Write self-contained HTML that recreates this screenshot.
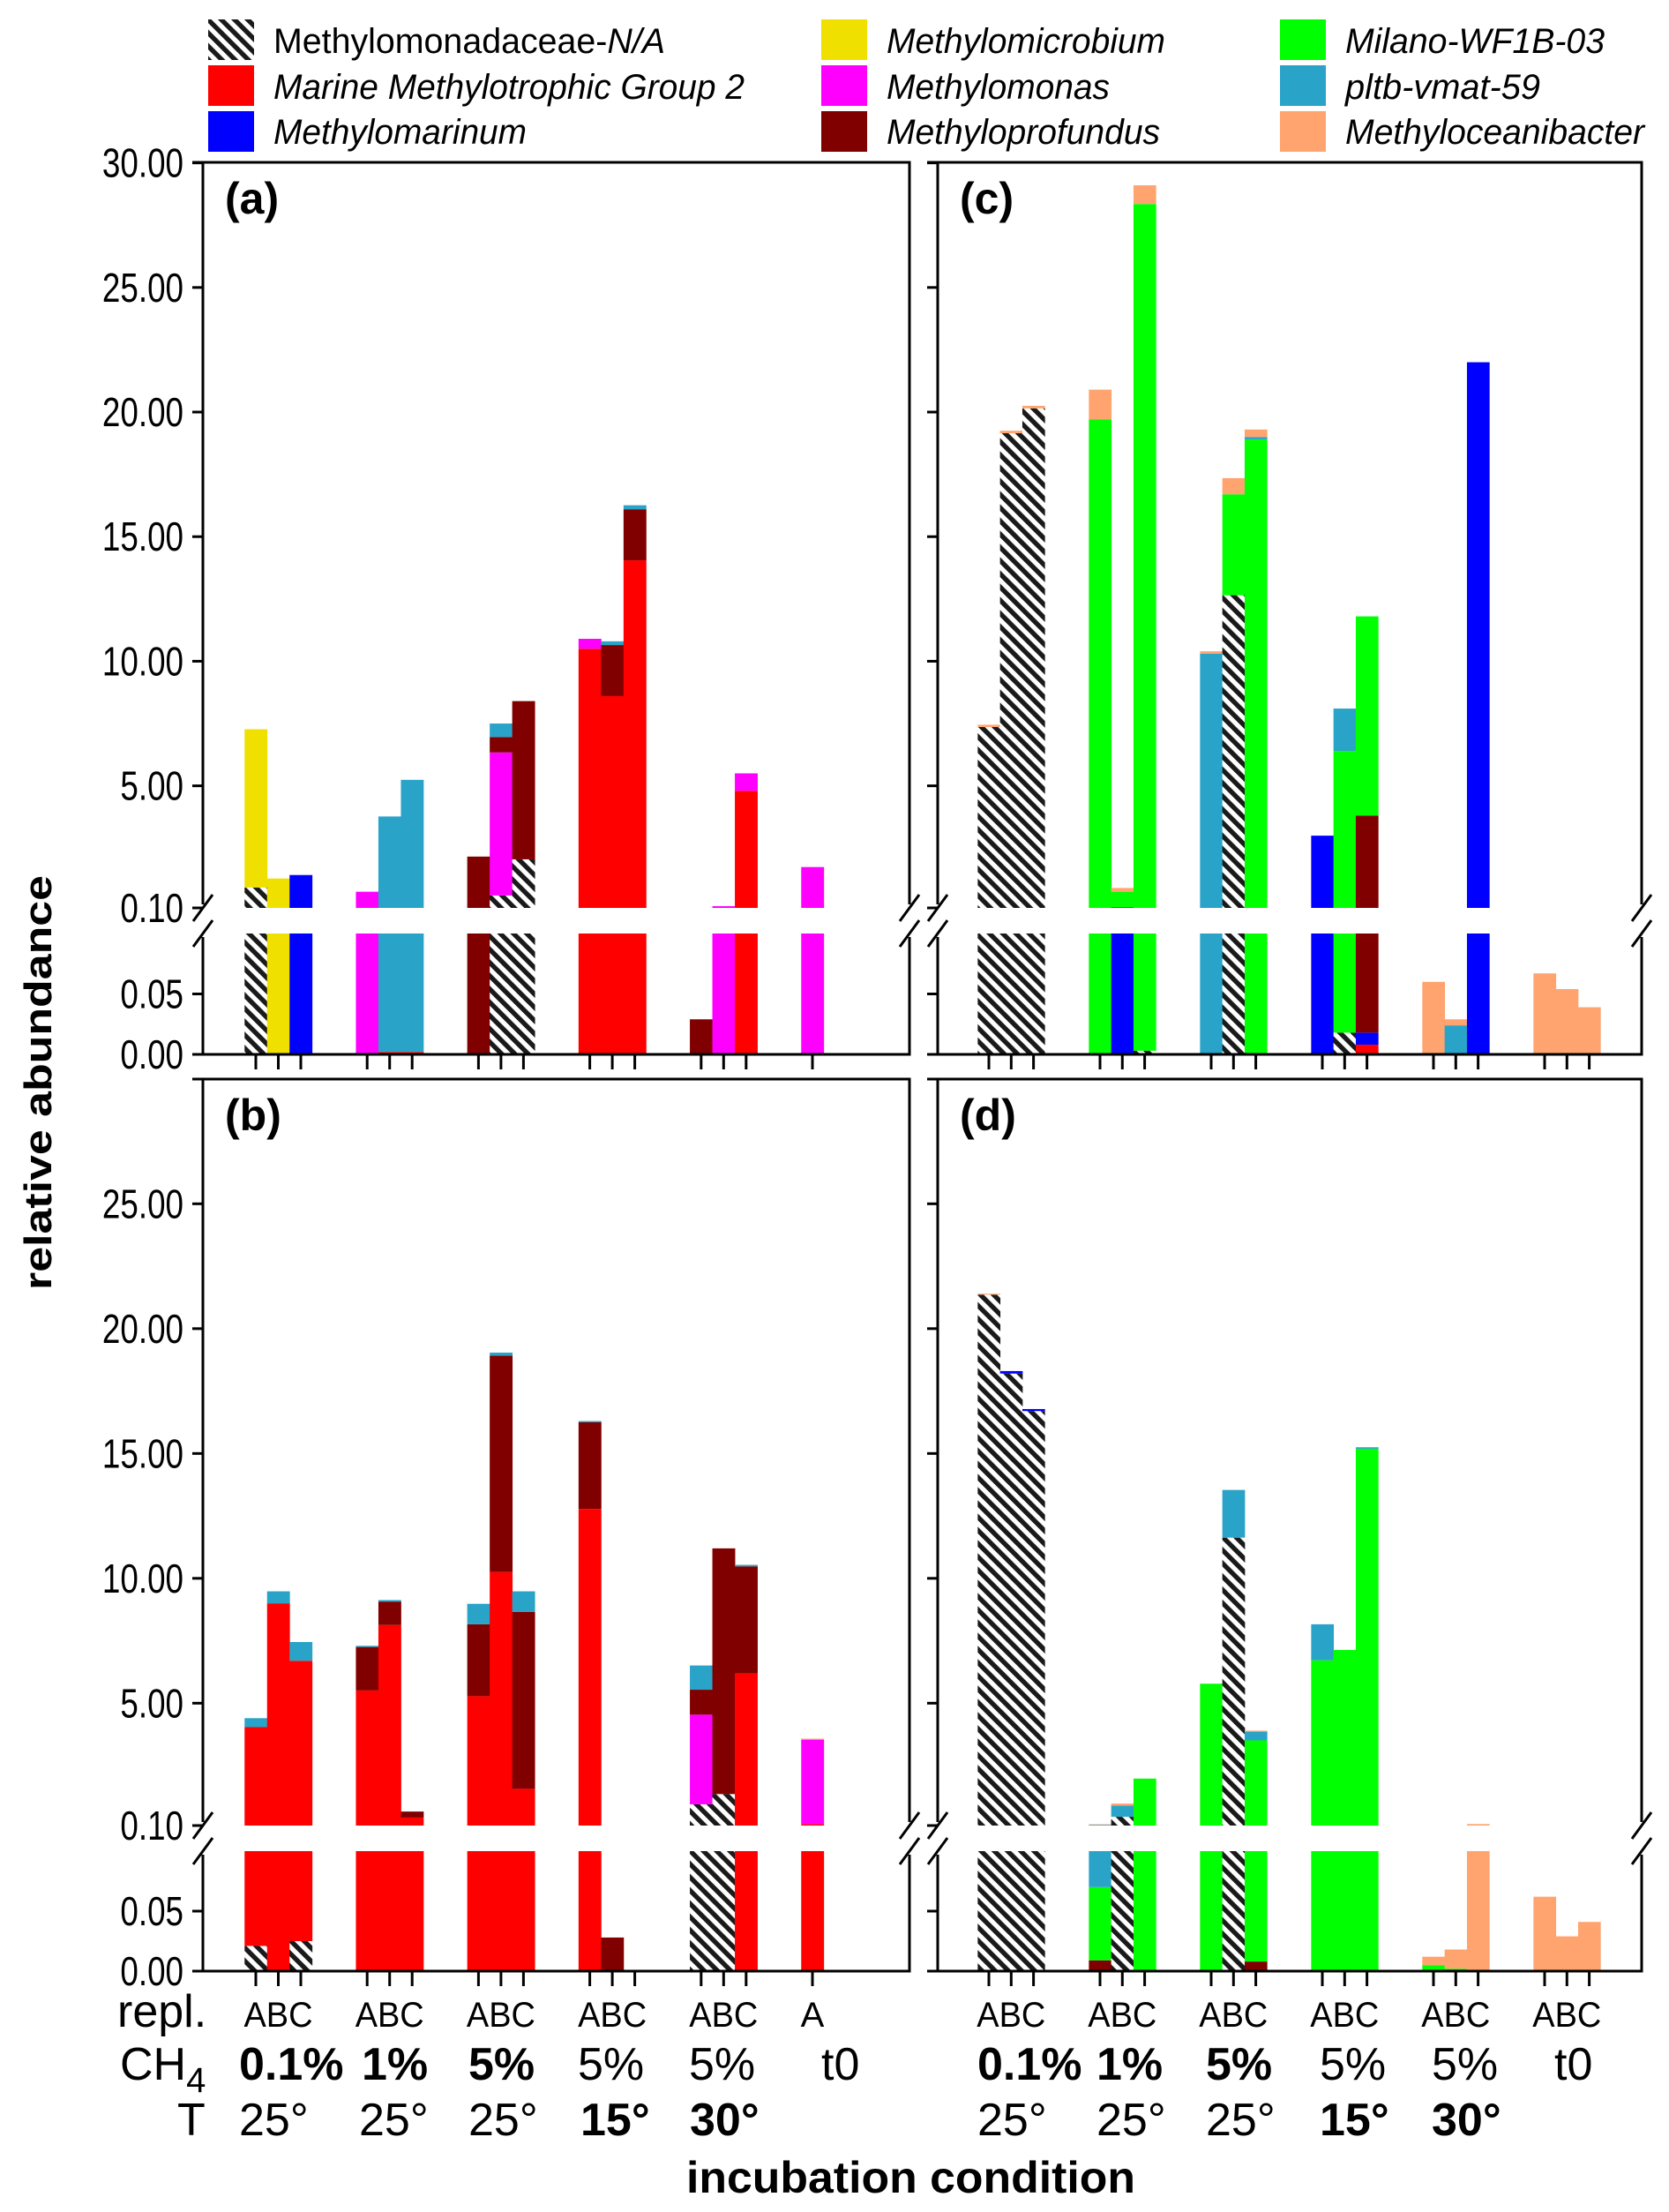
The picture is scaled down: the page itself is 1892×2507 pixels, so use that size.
<!DOCTYPE html>
<html><head><meta charset="utf-8"><style>
html,body{margin:0;padding:0;background:#fff;}
svg{display:block;font-family:"Liberation Sans",sans-serif;}
</style></head><body>
<svg id="chart" width="1892" height="2507" viewBox="0 0 1892 2507" xmlns="http://www.w3.org/2000/svg">
<defs>
<pattern id="hatch" patternUnits="userSpaceOnUse" width="10.6" height="10.6" patternTransform="rotate(-45)">
<rect width="10.6" height="10.6" fill="#fff"/><rect width="5.4" height="10.6" fill="#1a1a1a"/>
</pattern>
</defs>
<g id="legend"></g>
<g id="panels"></g>
<text transform="translate(58,1227) rotate(-90)" text-anchor="middle" font-weight="bold" font-size="44" textLength="470" lengthAdjust="spacingAndGlyphs">relative abundance</text>
<text x="778" y="2485" font-weight="bold" font-size="50" textLength="509" lengthAdjust="spacingAndGlyphs">incubation condition</text>
<g id="xlabels"></g>
</svg>
<script>
const taxa = ["Methylomonadaceae-N/A","Marine Methylotrophic Group 2","Methylomarinum","Methylomicrobium","Methylomonas","Methyloprofundus","Milano-WF1B-03","pltb-vmat-59","Methyloceanibacter"];
const taxaColors = ["url(#hatch)","#ff0000","#0000ff","#f0e000","#ff00ff","#800000","#00ff00","#2aa3c8","#ffa46e"];
const upperTicks = [30,25,20,15,10,5,0.1];
const upperTickLabels = ["30.00","25.00","20.00","15.00","10.00","5.00","0.10"];
const lowerTicks = [0.05,0];
const lowerTickLabels = ["0.05","0.00"];
// bars: [group, replicate, [[taxon, cumulative top], ...]]
const panelA = [
[0,0,[[0,0.92],[3,7.27]]],[0,1,[[3,1.28]]],[0,2,[[2,1.42]]],
[1,0,[[4,0.75]]],[1,1,[[1,0.002],[7,3.77]]],[1,2,[[1,0.002],[7,5.24]]],
[2,0,[[5,2.16]]],[2,1,[[0,0.6],[4,6.34],[5,6.96],[7,7.5]]],[2,2,[[0,2.05],[5,8.4]]],
[3,0,[[1,10.5],[4,10.9]]],[3,1,[[1,8.6],[5,10.65],[7,10.8]]],[3,2,[[1,14.05],[5,16.1],[7,16.26]]],
[4,0,[[5,0.029]]],[4,1,[[4,0.17]]],[4,2,[[1,4.8],[4,5.5]]],
[5,0,[[4,1.74]]]];
const panelB = [
[0,0,[[0,0.021],[1,4.04],[7,4.4]]],[0,1,[[1,9.0],[7,9.48]]],[0,2,[[0,0.025],[1,6.7],[7,7.45]]],
[1,0,[[1,5.51],[5,7.25],[7,7.3]]],[1,1,[[1,8.13],[5,9.07],[7,9.13]]],[1,2,[[1,0.42],[5,0.66]]],
[2,0,[[1,5.28],[5,8.16],[7,8.98]]],[2,1,[[1,10.25],[5,18.92],[7,19.04]]],[2,2,[[1,1.57],[5,8.66],[7,9.48]]],
[3,0,[[1,12.78],[5,16.25],[7,16.3]]],[3,1,[[5,0.028]]],
[4,0,[[0,0.95],[4,4.54],[5,5.54],[7,6.51]]],[4,1,[[0,1.36],[5,11.2]]],[4,2,[[1,6.19],[5,10.48],[7,10.54]]],
[5,0,[[1,0.16],[4,3.54],[8,3.58]]]];
const panelC = [
[0,0,[[0,7.36],[8,7.45]]],[0,1,[[0,19.15],[8,19.25]]],[0,2,[[0,20.15],[8,20.25]]],
[1,0,[[6,19.7],[8,20.9]]],[1,1,[[2,0.12],[6,0.75],[8,0.9]]],[1,2,[[0,0.003],[6,28.35],[8,29.1]]],
[2,0,[[7,10.3],[8,10.4]]],[2,1,[[0,12.65],[6,16.7],[8,17.35]]],[2,2,[[6,18.9],[7,19.0],[8,19.3]]],
[3,0,[[2,3.0]]],[3,1,[[0,0.018],[6,6.4],[7,8.1]]],[3,2,[[1,0.008],[2,0.018],[5,3.8],[6,11.8]]],
[4,0,[[8,0.06]]],[4,1,[[7,0.024],[8,0.029]]],[4,2,[[2,22.0]]],
[5,0,[[8,0.067]]],[5,1,[[8,0.054]]],[5,2,[[8,0.039]]]];
const panelD = [
[0,0,[[0,21.36],[8,21.4]]],[0,1,[[0,18.2],[2,18.3]]],[0,2,[[0,16.7],[2,16.78]]],
[1,0,[[5,0.009],[6,0.07],[7,0.13],[8,0.15]]],[1,1,[[0,0.45],[7,0.9],[8,0.98]]],[1,2,[[6,1.98]]],
[2,0,[[6,5.78]]],[2,1,[[0,11.63],[7,13.54]]],[2,2,[[5,0.008],[6,3.51],[7,3.86],[8,3.9]]],
[3,0,[[6,6.72],[7,8.16]]],[3,1,[[6,7.13]]],[3,2,[[6,15.19],[7,15.25]]],
[4,0,[[6,0.005],[8,0.012]]],[4,1,[[6,0.002],[8,0.018]]],[4,2,[[8,0.16]]],
[5,0,[[8,0.062]]],[5,1,[[8,0.029]]],[5,2,[[8,0.041]]]];
const ch4Labels = ["0.1%","1%","5%","5%","5%","t0"];
const ch4Bold = [true,true,true,false,false,false];
const tempLabels = ["25°","25°","25°","15°","30°",""];
const tempBold = [false,false,false,true,true,false];

const NS="http://www.w3.org/2000/svg";
function mk(tag,attrs,parent,txt){const e=document.createElementNS(NS,tag);for(const k in attrs)e.setAttribute(k,attrs[k]);if(txt!==undefined)e.textContent=txt;parent.appendChild(e);return e;}

// legend
const lg=document.getElementById('legend');
const legCols=[[236,310],[931,1005],[1451,1525]];
const legRows=[[22,60],[74,112],[126,163]];
const legW=[444,534,287,316,253,310,294,221,339];
const legOrder=[0,1,2,3,4,5,6,7,8];
legOrder.forEach((t,i)=>{
  const c=legCols[Math.floor(i/3)], r=legRows[i%3];
  const g=mk('g',{},lg);
  
  
  mk('rect',{x:c[0],y:r[0],width:52,height:46,fill:taxaColors[t]},g);
  if(t===0){
    const tx=mk('text',{x:c[1],y:r[1],'font-size':40,textLength:legW[t],lengthAdjust:'spacingAndGlyphs'},g,'Methylomonadaceae-');
    mk('tspan',{'font-style':'italic'},tx,'N/A');
  } else {
    mk('text',{x:c[1],y:r[1],'font-size':40,'font-style':'italic',textLength:legW[t],lengthAdjust:'spacingAndGlyphs'},g,taxa[t]);
  }
});

function drawPanel(cfg){
  const root=document.getElementById('panels');
  const g=mk('g',{},root);
  
  
  const L=cfg.left,R=cfg.right,T=cfg.top;
  const yUp=v=>cfg.up0-(v-0.1)*cfg.upScale;
  const yLo=v=>cfg.lo0-v*cfg.loScale;
  const loTop=yLo(0.1), upBot=yUp(0.1);
  const xc=(gi,r)=>cfg.x0+gi*cfg.gp+r*cfg.bp;
  const bw=cfg.bp;
  cfg.data.forEach(b=>{
    const bar=mk('g',{},g);
    
    
    let prev=0; const x=xc(b[0],b[1])-bw/2;
    b[2].forEach(s=>{
      const t=s[0], top=s[1], bot=prev; prev=top;
      if(bot<0.1){const a=yLo(Math.min(top,0.1)),z=yLo(bot);
        mk('rect',{x:x,y:a,width:bw+0.4,height:Math.max(z-a,0),fill:taxaColors[t]},bar);}
      if(top>0.1){const a=yUp(top),z=yUp(Math.max(bot,0.1));
        mk('rect',{x:x,y:a,width:bw+0.4,height:Math.max(z-a,0),fill:taxaColors[t]},bar);}
    });
  });
  const ax={stroke:'#000','stroke-width':3,fill:'none'};
  mk('polyline',Object.assign({points:`${L},${upBot-4} ${L},${T} ${R},${T} ${R},${upBot-4}`},ax),g);
  mk('line',Object.assign({x1:L-12,y1:T,x2:L,y2:T},ax),g);
  mk('polyline',Object.assign({points:`${L},${loTop+4} ${L},${cfg.lo0} ${R},${cfg.lo0} ${R},${loTop+4}`},ax),g);
  mk('line',Object.assign({x1:L-12,y1:cfg.lo0,x2:L,y2:cfg.lo0},ax),g);
  [L,R].forEach(X=>{[upBot,loTop].forEach(Y=>{
    mk('line',{x1:X-11,y1:Y+15,x2:X+11,y2:Y-15,stroke:'#000','stroke-width':3},g);});});
  upperTicks.forEach((v,i)=>{
    if(v>cfg.maxTick) return;
    const y=yUp(v);
    mk('line',Object.assign({x1:L-12,y1:y,x2:L,y2:y},ax),g);
    if(cfg.labels){const t=mk('text',{transform:`translate(208,${y+16}) scale(0.8,1)`,'text-anchor':'end','font-size':46},g,upperTickLabels[i]);
      }
  });
  lowerTicks.forEach((v,i)=>{
    const y=yLo(v);
    mk('line',Object.assign({x1:L-12,y1:y,x2:L,y2:y},ax),g);
    if(cfg.labels){const t=mk('text',{transform:`translate(208,${y+16}) scale(0.8,1)`,'text-anchor':'end','font-size':46},g,lowerTickLabels[i]);
      }
  });
  for(let gi=0;gi<6;gi++){const n=(cfg.oneA&&gi===5)?1:3;for(let r=0;r<n;r++){
    const x=xc(gi,r); mk('line',{x1:x,y1:cfg.lo0,x2:x,y2:cfg.lo0+17,stroke:'#000','stroke-width':3},g);}}
  const pl=mk('text',{x:L+25,y:T+58,'font-size':50,'font-weight':'bold'},g,'('+cfg.id+')');
  
  return xc;
}
drawPanel({id:'a',left:230,right:1031,top:184,up0:1029,upScale:28.24,lo0:1195,loScale:1370,x0:290,gp:126.2,bp:25.5,data:panelA,labels:true,maxTick:30,oneA:true});
drawPanel({id:'c',left:1063,right:1861,top:184,up0:1029,upScale:28.24,lo0:1195,loScale:1370,x0:1121,gp:126,bp:25.3,data:panelC,labels:false,maxTick:30,oneA:false});
drawPanel({id:'b',left:230,right:1031,top:1223,up0:2069,upScale:28.3,lo0:2234,loScale:1360,x0:290,gp:126.2,bp:25.5,data:panelB,labels:true,maxTick:29,oneA:true});
drawPanel({id:'d',left:1063,right:1861,top:1223,up0:2069,upScale:28.3,lo0:2234,loScale:1360,x0:1121,gp:126,bp:25.3,data:panelD,labels:false,maxTick:29,oneA:false});

const xl=document.getElementById('xlabels');
mk('text',{x:133,y:2297,'font-size':52},xl,'repl.');
const ch=mk('text',{x:136,y:2357,'font-size':52},xl,'CH');
mk('tspan',{'font-size':40,dy:14},ch,'4');
mk('text',{x:201,y:2420,'font-size':52},xl,'T');
const ch4X=[[271,410,531,655,781,931],[1108,1243,1367,1496,1623,1762]];
const tX=[[271,407,531,658,782],[1108,1243,1367,1496,1623]];
[0,1].forEach(side=>{
  const x0=side?1121:290, gp=side?126:126.2, bp=side?25.3:25.5;
  for(let gi=0;gi<6;gi++){
    const single=(side===0&&gi===5);
    const t=mk('text',{x:x0+gi*gp+(single?0:bp),y:2297,'font-size':40,'text-anchor':'middle'},xl,single?'A':'ABC');
    if(!single){t.setAttribute('textLength',78);t.setAttribute('lengthAdjust','spacingAndGlyphs');}
    
    
    const c=mk('text',{x:ch4X[side][gi],y:2357,'font-size':52,'font-weight':ch4Bold[gi]?'bold':'normal'},xl,ch4Labels[gi]);
    
    
    if(tempLabels[gi]){const tt=mk('text',{x:tX[side][gi],y:2420,'font-size':52,'font-weight':tempBold[gi]?'bold':'normal'},xl,tempLabels[gi]);
      
      }
  }
});
</script>
</body></html>
